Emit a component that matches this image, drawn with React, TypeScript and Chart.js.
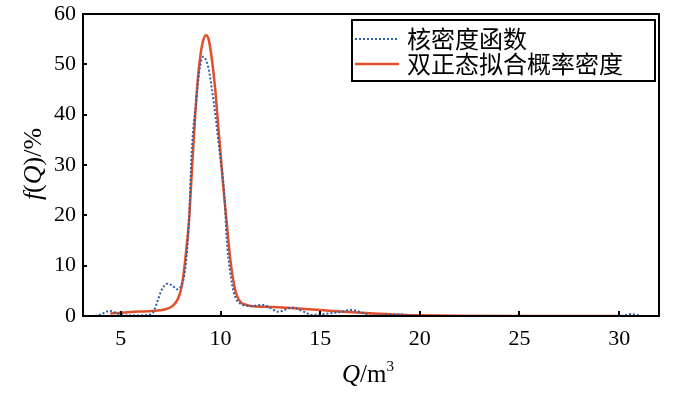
import React, { useEffect, useRef } from 'react';
import { Chart, registerables } from 'chart.js';

Chart.register(...registerables);

// Kernel density estimate (blue dotted)
const kdeQ = [3.7, 4.0, 4.3, 4.5, 4.8, 5.2, 5.8, 6.3, 6.6, 6.8, 7.05, 7.33, 7.6, 7.8, 8.05, 8.2, 8.32, 8.42, 8.55, 8.77, 8.97, 9.13, 9.38, 9.55, 9.77, 10.0, 10.13, 10.22, 10.3, 10.47, 10.68, 10.97, 11.5, 12.13, 12.5, 12.9, 13.6, 14.1, 14.6, 15.45, 16.0, 16.6, 17.1, 17.5, 18.0, 18.6, 19.1, 19.6, 20.5, 25.0, 30.0, 30.3, 30.6, 30.9, 31.2];
const kdeF = [0, 0.3, 0.9, 1.0, 0.5, 0.1, 0.1, 0.2, 0.6, 2.5, 5.2, 6.4, 6.0, 5.3, 6.2, 8.5, 13, 19, 32.3, 42.3, 49.5, 51.5, 49.5, 45.6, 39, 31, 27, 22.5, 15.8, 9.1, 4.5, 2.5, 2.0, 2.2, 1.6, 0.85, 1.7, 1.0, 0.2, 0.5, 0.8, 1.2, 0.65, 0.1, 0.1, 0.3, 0.3, 0.05, 0, 0, 0, 0.2, 0.4, 0.2, 0];

// Bi-normal fitted density (red solid)
const fitQ = [4.47, 5.5, 6.5, 7.2, 7.6, 7.85, 8.0, 8.13, 8.25, 8.42, 8.58, 8.7, 8.83, 9.0, 9.15, 9.28, 9.4, 9.55, 9.72, 9.88, 10.0, 10.13, 10.3, 10.5, 10.7, 10.85, 11.05, 11.3, 11.5, 12.5, 13.5, 15.0, 16.0, 17.5, 19.0, 20.0, 22.0, 25.0, 30.0];
const fitF = [0.5, 0.8, 1.0, 1.3, 2.0, 3.3, 5.0, 7.8, 12, 19, 30, 38, 45.6, 52, 55, 55.8, 55, 51.5, 45.6, 38, 32.4, 26, 19, 11, 5.8, 3.8, 2.6, 2.2, 2.0, 1.8, 1.6, 1.2, 0.9, 0.53, 0.25, 0.15, 0.05, 0, 0];

const seriesLabels = ['核密度函数', '双正态拟合概率密度'];
const xTicks = [5, 10, 15, 20, 25, 30];
const yTicks = [0, 10, 20, 30, 40, 50, 60];
const xMin = 3.1;
const xMax = 32;
const yMin = 0;
const yMax = 60;
const yStep = 10;

const BLUE = '#2f5fa8';
const RED = '#e2502a';
const SERIF = '"Liberation Serif", "Times New Roman", serif';
const CJK = '"Noto Sans CJK SC", sans-serif';

type Seg = { t: string; italic?: boolean; sup?: boolean };

function drawSegs(ctx: CanvasRenderingContext2D, segs: Seg[], size: number) {
  const fontOf = (s: Seg) => `${s.italic ? 'italic ' : ''}${s.sup ? Math.round(size * 0.6) : size}px ${SERIF}`;
  let total = 0;
  for (const s of segs) { ctx.font = fontOf(s); total += ctx.measureText(s.t).width; }
  let x = -total / 2;
  ctx.textBaseline = 'middle';
  ctx.textAlign = 'left';
  for (const s of segs) {
    ctx.font = fontOf(s);
    ctx.fillText(s.t, x, s.sup ? -size * 0.3 : 0);
    x += ctx.measureText(s.t).width;
  }
}

const decorPlugin = {
  id: 'decor',
  afterDraw(chart: any) {
    const { ctx, chartArea: a, scales } = chart;
    ctx.save();
    ctx.strokeStyle = '#000';
    ctx.lineWidth = 2;
    // inward ticks on x axis
    for (const v of xTicks) {
      const px = Math.round(scales.x.getPixelForValue(v));
      ctx.beginPath();
      ctx.moveTo(px, a.bottom);
      ctx.lineTo(px, a.bottom - 5);
      ctx.stroke();
    }
    // inward ticks on y axis
    for (const v of yTicks) {
      const py = Math.round(scales.y.getPixelForValue(v));
      ctx.beginPath();
      ctx.moveTo(a.left, py);
      ctx.lineTo(a.left + 4, py);
      ctx.stroke();
    }
    // frame
    ctx.strokeRect(a.left, a.top, a.right - a.left, a.bottom - a.top);

    // legend
    const lx = 352, ly = 20, lw = 303, lh = 61;
    ctx.fillStyle = '#fff';
    ctx.fillRect(lx, ly, lw, lh);
    ctx.strokeRect(lx, ly, lw, lh);
    const rows = [ly + 19, ly + 44];
    const dsets = chart.data.datasets;
    dsets.forEach((ds: any, i: number) => {
      ctx.save();
      ctx.strokeStyle = ds.borderColor;
      ctx.lineWidth = ds.borderWidth;
      ctx.setLineDash(ds.borderDash || []);
      ctx.beginPath();
      ctx.moveTo(lx + 3, rows[i]);
      ctx.lineTo(lx + 47, rows[i]);
      ctx.stroke();
      ctx.restore();
      ctx.fillStyle = '#000';
      ctx.font = `24px ${CJK}`;
      ctx.textBaseline = 'middle';
      ctx.textAlign = 'left';
      ctx.fillText(ds.label, lx + 55, rows[i]);
    });

    // axis titles
    ctx.fillStyle = '#000';
    ctx.save();
    ctx.translate(34, 164);
    ctx.rotate(-Math.PI / 2);
    drawSegs(ctx, [{ t: 'f', italic: true }, { t: '(' }, { t: 'Q', italic: true }, { t: ')/%' }], 26);
    ctx.restore();

    ctx.save();
    ctx.translate(368, 375);
    drawSegs(ctx, [{ t: 'Q', italic: true }, { t: '/m' }, { t: '3', sup: true }], 25);
    ctx.restore();

    ctx.restore();
  },
};

export default function App() {
  const ref = useRef<HTMLCanvasElement>(null);
  useEffect(() => {
    if (!ref.current) return;
    const chart = new Chart(ref.current, {
      type: 'line',
      data: {
        datasets: [
          {
            label: seriesLabels[0],
            data: kdeQ.map((q, i) => ({ x: q, y: kdeF[i] })),
            borderColor: BLUE,
            borderWidth: 2,
            borderDash: [2, 2],
            pointRadius: 0,
            fill: false,
            cubicInterpolationMode: 'monotone',
          },
          {
            label: seriesLabels[1],
            data: fitQ.map((q, i) => ({ x: q, y: fitF[i] })),
            borderColor: RED,
            borderWidth: 2.5,
            pointRadius: 0,
            fill: false,
            cubicInterpolationMode: 'monotone',
          },
        ],
      },
      options: {
        responsive: false,
        animation: false,
        layout: { padding: { top: 14, right: 41, left: 0, bottom: 0 } },
        plugins: { legend: { display: false }, tooltip: { enabled: false } },
        scales: {
          x: {
            type: 'linear',
            min: xMin,
            max: xMax,
            grid: { display: false, drawTicks: false },
            border: { display: false },
            afterBuildTicks: (s: any) => { s.ticks = xTicks.map((v) => ({ value: v })); },
            afterFit: (s: any) => { s.height = 77; s.paddingLeft = 0; s.paddingRight = 0; },
            ticks: { color: '#000', padding: 10, font: { family: SERIF, size: 22 }, maxRotation: 0 },
          },
          y: {
            type: 'linear',
            min: yMin,
            max: yMax,
            grid: { display: false, drawTicks: false },
            border: { display: false },
            afterFit: (s: any) => { s.width = 83; s.paddingTop = 0; s.paddingBottom = 0; },
            ticks: { stepSize: yStep, color: '#000', padding: 7, font: { family: SERIF, size: 22 } },
          },
        },
      },
      plugins: [decorPlugin],
    } as any);
    return () => chart.destroy();
  }, []);
  return (
    <div style={{ position: 'absolute', left: 0, top: 0, width: 700, height: 393, background: '#fff' }}>
      <canvas ref={ref} width={700} height={393} style={{ display: 'block' }} />
    </div>
  );
}
